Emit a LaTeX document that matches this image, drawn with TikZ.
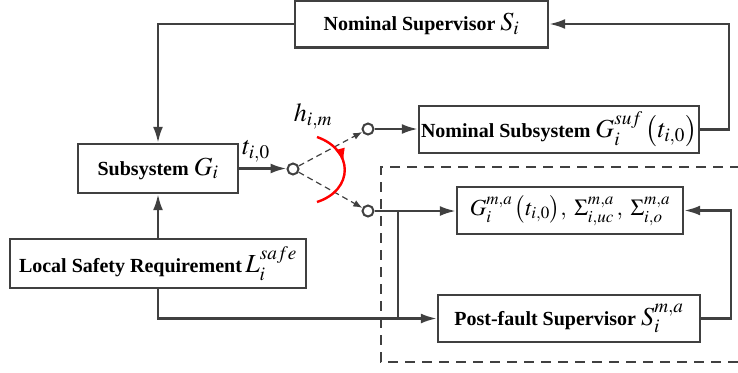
\documentclass[tikz,border=0pt]{standalone}
\usepackage{mathptmx}
\usepackage[no-math]{fontspec}
\setmainfont{Liberation Serif}
\usetikzlibrary{arrows.meta,decorations.markings}
\definecolor{linegray}{HTML}{404040}
\tikzset{
  blk/.style={draw=linegray, line width=2.4pt, minimum height=47pt, inner sep=0pt, font=\fontsize{20}{24}\selectfont\bfseries},
  sw/.style={circle, draw=linegray, line width=2pt, minimum size=11pt, inner sep=0pt},
  conn/.style={draw=linegray, line width=2.4pt, -{Latex[length=16pt,width=10pt]}},
  plainconn/.style={draw=linegray, line width=2.4pt},
  dashconn/.style={draw=linegray, line width=1.2pt, dash pattern=on 6pt off 4pt, -{Latex[length=9pt,width=7pt]}},
  faultbox/.style={draw=linegray, line width=1.5pt, dash pattern=on 10pt off 7pt},
}
\newcommand{\mtx}[1]{{\fontsize{26}{28}\selectfont$\mathversion{normal}#1$}}
\newcommand{\mtxs}[1]{{\fontsize{23}{26}\selectfont$\mathversion{normal}#1$}}
\begin{document}
\begin{tikzpicture}[x=1pt,y=-1pt]
                \useasboundingbox (0,0) rectangle (738,372) ;
                % blocks
                \node[blk, minimum width=253pt] (nsup) at (421.5,24) {Nominal Supervisor \mtx{S_i}} ;
                \node[blk, minimum width=280pt] (nsub) at (559,129.5) {Nominal Subsystem \mtx{G_i^{suf}\,\bigl(t_{i,0}\bigr)}} ;
                \node[blk, minimum width=160pt, minimum height=49pt] (sub) at (158,168.5) {Subsystem \mtx{G_i}} ;
                \node[blk, minimum width=296pt, minimum height=49pt] (lsr) at (158,263.5) {Local Safety Requirement\,\mtx{L_i^{safe}}} ;
                \node[blk, minimum width=226pt, font=\fontsize{20}{24}\selectfont] (gbox) at (570,210.5) {\mtxs{G_i^{m,a}\,\bigl(t_{i,0}\bigr),\; \Sigma_{i,uc}^{m,a}\,,\; \Sigma_{i,o}^{m,a}}} ;
                \node[blk, minimum width=262pt] (pf) at (569,318.5) {Post-fault Supervisor \mtx{S_i^{m,a}}} ;
                % switch
                \node[sw] (c0) at (293,169) {} ;
                \node[sw] (cu) at (368,129) {} ;
                \node[sw] (cl) at (368,211) {} ;
                \node (tlab) at (256,151) {\mtx{t_{i,0}}} ;
                \node (hlab) at (313,116) {\mtx{h_{i,m}}} ;
                \coordinate (jn) at (398,211) ;
                % connections
                \draw[conn] (nsup.west) -| (sub.north) ;
                \draw[conn] (nsub.east) -- ++(29,0) |- (nsup.east) ;
                \draw[conn] (lsr.north) -- (sub.south) ;
                \draw[conn] (sub.east) -- (sub.east -| c0.west) ;
                \draw[dashconn] (c0) -- (cu) ;
                \draw[dashconn] (c0) -- (cl) ;
                \draw[conn] (cu.east) -- (cu.east -| nsub.west) ;
                \draw[conn] (cl.east) -- (cl.east -| gbox.west) ;
                \draw[conn] (lsr.south) |- (pf.west) ;
                \draw[plainconn] (jn) -- (jn |- pf.west) ;
                \draw[conn] (pf.east) -- ++(30,0) |- (gbox.east) ;
                \draw[red, line width=2.4pt, postaction=decorate, decoration={markings, mark=at position 0.42 with {\arrow{Latex[length=14pt,width=10pt]}}}] (317,137) .. controls (354,150) and (354,190) .. (317,202) ;
                \draw[faultbox] (740,167) -- (381,167) -- (381,362) -- (740,362) ;
\end{tikzpicture}
\end{document}
